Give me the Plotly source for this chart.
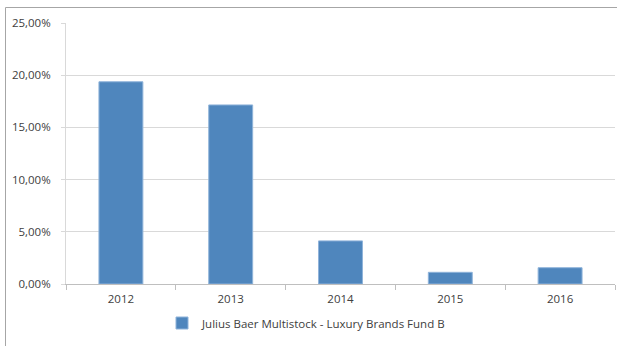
import plotly.graph_objects as go

years = ["2012", "2013", "2014", "2015", "2016"]
returns_pct = [19.37, 17.15, 4.13, 1.12, 1.56]
series_name = "Julius Baer Multistock - Luxury Brands Fund B"
y_ticks = [0, 5, 10, 15, 20, 25]
y_tick_labels = ["0,00%", "5,00%", "10,00%", "15,00%", "20,00%", "25,00%"]

W, H = 617, 346
L, R, T, B = 66, 2, 23, 62
pw, ph = W - L - R, H - T - B

fig = go.Figure()
fig.add_trace(go.Bar(
    x=years, y=returns_pct, name=series_name,
    marker=dict(color="#4F86BD", line=dict(color="#8FB3DA", width=1)),
    width=0.4, showlegend=True,
))

font = dict(family="Open Sans, Noto Sans, sans-serif", size=11.5, color="#404040")

fig.update_layout(
    width=W, height=H,
    margin=dict(l=L, r=R, t=T, b=B, autoexpand=False),
    paper_bgcolor="white", plot_bgcolor="white",
    font=font,
    showlegend=True,
    legend=dict(orientation="h", x=(162 - L) / pw, xanchor="left",
                y=-(323 - 284) / ph, yanchor="middle", font=font,
                itemwidth=30, bgcolor="rgba(0,0,0,0)"),
    xaxis=dict(
        type="category", showgrid=False, showline=True, linecolor="#BFBFBF",
        linewidth=1, ticks="outside", tickson="boundaries", ticklen=5,
        tickcolor="#BFBFBF", tickfont=font, range=[-0.5, 4.5],
        ticklabelstandoff=4,
    ),
    yaxis=dict(
        range=[0, 25], tickvals=y_ticks, ticktext=y_tick_labels,
        showgrid=True, gridcolor="#D9D9D9", gridwidth=1,
        showline=True, linecolor="#D9D9D9", linewidth=1,
        ticks="outside", ticklen=4, tickcolor="#D9D9D9",
        tickfont=font, zeroline=False, ticklabelstandoff=8,
    ),
    shapes=[
        dict(type="line", xref="paper", yref="paper",
             x0=(5.5 - L) / pw, x1=(W - L) / pw,
             y0=(H - 7.5 - B) / ph, y1=(H - 7.5 - B) / ph,
             line=dict(color="#A6A6A6", width=1)),
        dict(type="line", xref="paper", yref="paper",
             x0=(5.5 - L) / pw, x1=(5.5 - L) / pw,
             y0=(H - 7.5 - B) / ph, y1=-B / ph,
             line=dict(color="#A6A6A6", width=1)),
    ],
)

fig.write_html(
    "out.html",
    config={"responsive": False, "displayModeBar": False},
    post_script="document.body.style.margin='0';document.body.style.overflow='hidden';",
)
